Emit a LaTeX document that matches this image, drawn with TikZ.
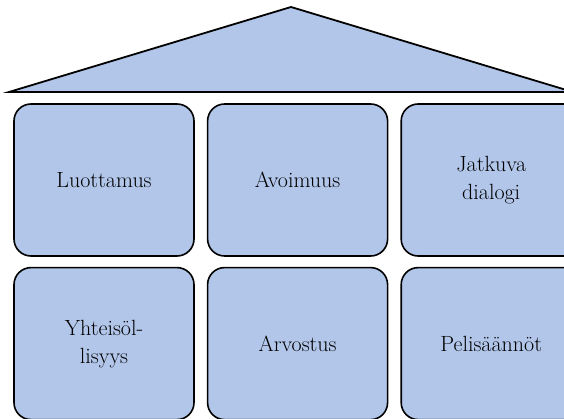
\documentclass[tikz,border=0pt]{standalone}
\usepackage{xcolor}
\usepackage{tikz}
\usetikzlibrary{positioning}
\definecolor{roofblue}{RGB}{178,198,234}

\begin{document}
\begin{tikzpicture}[x=1pt, y=-1pt,
  pillar/.style={draw, line width=1.6pt, rounded corners=17pt, fill=roofblue, align=center,
    font=\fontsize{22}{28}\selectfont, minimum width=180pt, minimum height=152pt, inner sep=0pt},
  roof/.style={draw, line width=1.8pt, fill=roofblue}]
\useasboundingbox (0,0) rectangle (564,419);
\clip (0,0) rectangle (564,419);
% roof
\coordinate (eaveL) at (9,92);
\coordinate (apex) at (291,7);
\coordinate (eaveR) at (573,92);
\draw[roof] (eaveL) -- (apex) -- (eaveR) -- cycle;
% pillars
\matrix[row sep=10pt, column sep=12pt, anchor=north west, inner sep=0pt] (house) at (13,103) {
\node[pillar] (luottamus) {Luottamus}; &
\node[pillar] (avoimuus) {Avoimuus}; &
\node[pillar] (dialogi) {Jatkuva\\dialogi}; \\
\node[pillar] (yhteisollisyys) {Yhteisöl-\\lisyys}; &
\node[pillar] (arvostus) {Arvostus}; &
\node[pillar] (pelisaannot) {Pelisäännöt}; \\
};
\end{tikzpicture}
\end{document}
